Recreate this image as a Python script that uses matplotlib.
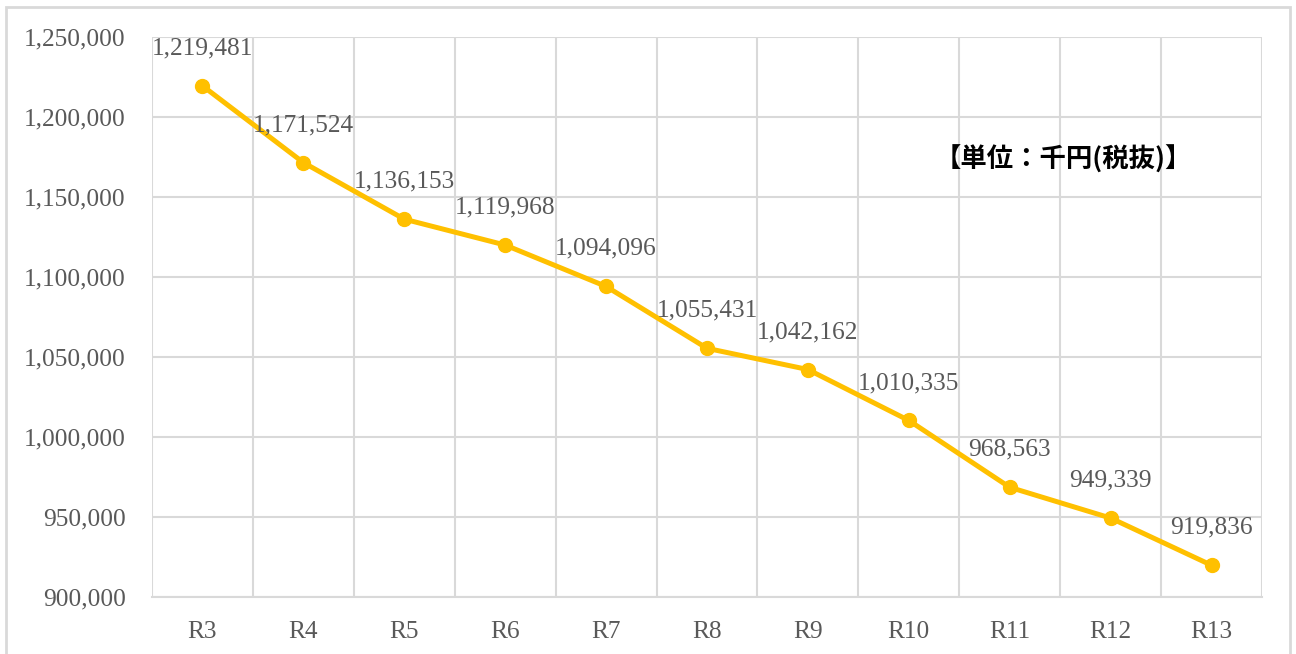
import matplotlib.pyplot as plt
from matplotlib.patches import Rectangle

# 年度別の金額（千円・税抜）
years = ['R3', 'R4', 'R5', 'R6', 'R7', 'R8', 'R9', 'R10', 'R11', 'R12', 'R13']
amounts = [1219481, 1171524, 1136153, 1119968, 1094096, 1055431,
           1042162, 1010335, 968563, 949339, 919836]
y_ticks = [900000, 950000, 1000000, 1050000, 1100000, 1150000, 1200000, 1250000]

text_color = '#595959'
grid_color = '#d9d9d9'
line_color = '#FFC000'
num_font = ['Liberation Serif', 'DejaVu Serif']
fsize = 18.3

fig = plt.figure(figsize=(12.96, 6.54), dpi=100)
ax = fig.add_axes([152 / 1296, 1 - 597 / 654, 1110 / 1296, 560 / 654])

x = list(range(len(years)))
ax.plot(x, amounts, color=line_color, linewidth=3.6, marker='o',
        markersize=10, zorder=3, solid_capstyle='round')

for xi, v in zip(x, amounts):
    ax.annotate(f'{v:,}', (xi, v), xytext=(0, 27), textcoords='offset points',
                ha='center', va='center', fontsize=fsize, color=text_color,
                family=num_font)

ax.set_xlim(-0.5, len(years) - 0.5)
ax.set_ylim(y_ticks[0], y_ticks[-1])
ax.set_yticks(y_ticks)
ax.set_yticklabels([f'{t:,}' for t in y_ticks], family=num_font,
                   fontsize=fsize, color=text_color)
ax.set_xticks(x)
ax.set_xticklabels(years, family=num_font, fontsize=fsize, color=text_color)
ax.tick_params(axis='y', length=0, pad=19)
ax.tick_params(axis='x', length=0, pad=17)

# 横の目盛線と、区分ごとの縦線
ax.grid(axis='y', color=grid_color, linewidth=1.5)
ax.set_xticks([i - 0.5 for i in range(len(years) + 1)], minor=True)
ax.grid(axis='x', which='minor', color=grid_color, linewidth=1.5)
ax.tick_params(axis='x', which='minor', length=0)
ax.set_axisbelow(True)
for side in ['top', 'right', 'left']:
    ax.spines[side].set_visible(False)
ax.spines['bottom'].set_color(grid_color)
ax.spines['bottom'].set_linewidth(1.5)

fig.text(1063 / 1296, 1 - 160 / 654, '【単位：千円(税抜)】', ha='center', va='center',
         fontsize=19, fontweight='bold', color='black',
         family=['Noto Sans CJK JP', 'DejaVu Sans'])

# グラフ全体の枠線
fig.patches.append(Rectangle((6 / 1296, -0.05), 1284 / 1296, 1.05 - 7 / 654,
                             transform=fig.transFigure, fill=False,
                             edgecolor=grid_color, linewidth=2))

fig.savefig('out.png', dpi=100)
